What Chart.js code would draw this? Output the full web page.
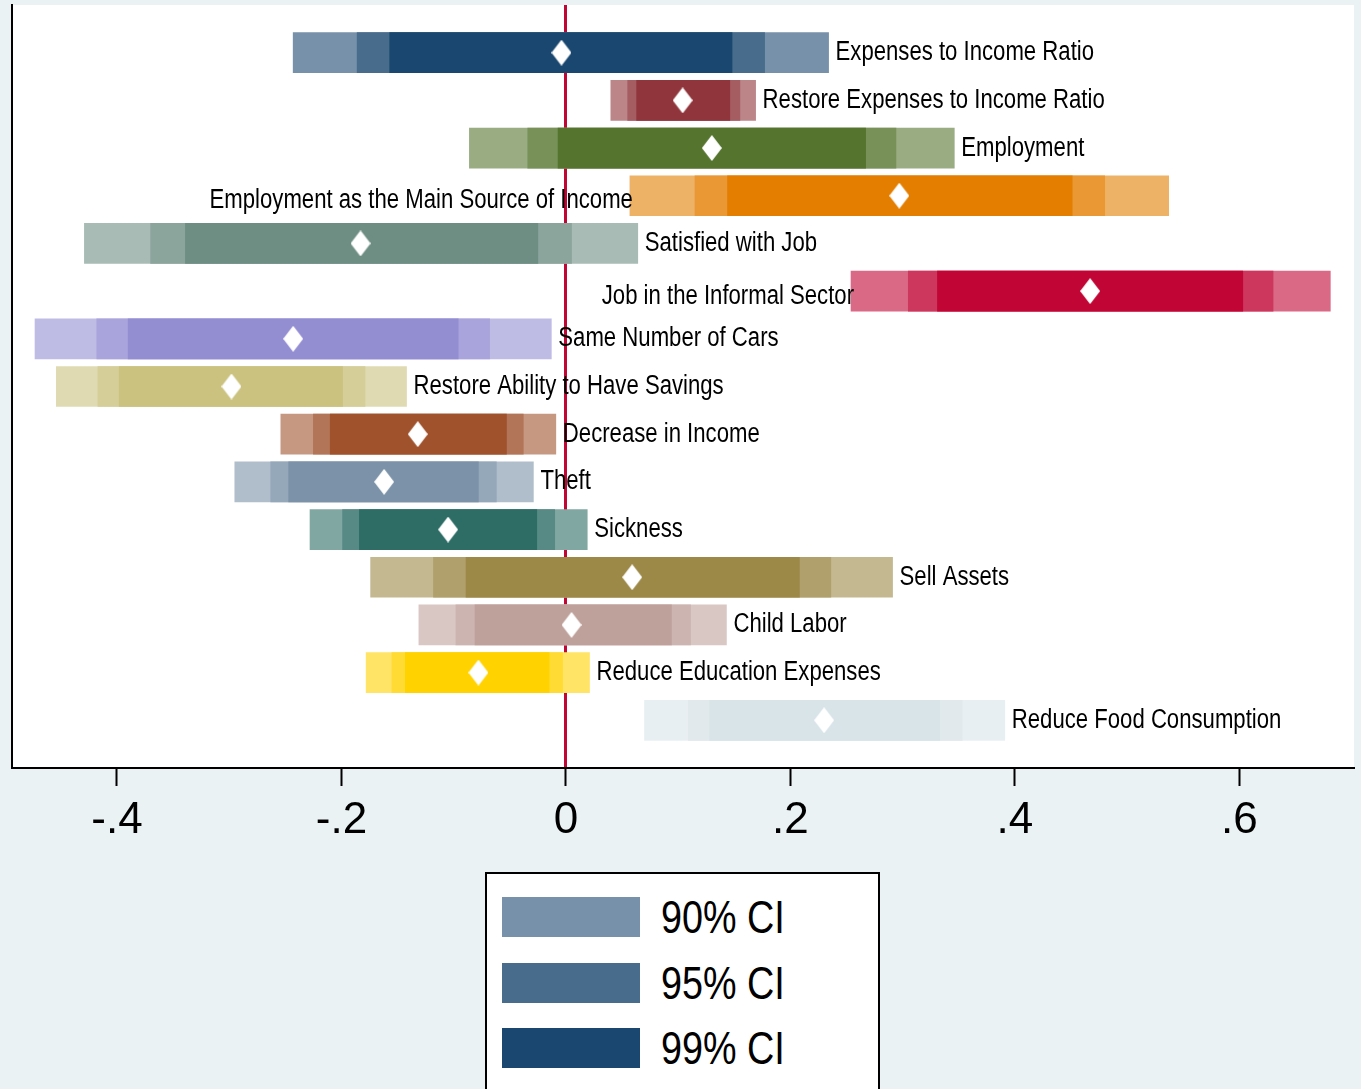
<!DOCTYPE html>
<html>
<head>
<meta charset="utf-8">
<title>Coefficient plot</title>
<script src="https://cdn.jsdelivr.net/npm/chart.js@4.4.1/dist/chart.umd.min.js"></script>
<style>
  html, body { margin: 0; padding: 0; background: #eaf2f3; overflow: hidden; }
  #wrap { position: relative; width: 1361px; height: 1089px; }
  #legend {
    position: absolute; left: 485px; top: 872px; width: 395px; height: 260px;
    box-sizing: border-box; border: 2px solid #000; background: #fff;
  }
  .item { position: absolute; left: 15px; height: 40px; display: flex; align-items: center; }
  .swatch { width: 138px; height: 40px; flex: none; }
  .lbl {
    margin-left: 21px; font: 46px 'Liberation Sans', Arial, sans-serif; color: #000;
    white-space: nowrap; display: inline-block; transform: scaleX(0.82); transform-origin: left center;
  }
</style>
</head>
<body>
<div id="wrap">
  <canvas id="coefChart"></canvas>
  <div id="legend"></div>
</div>
<script>
  const FONT = "'Liberation Sans', Arial, sans-serif";
  const NARROW = 0.82;

  const categories = [
    'Expenses to Income Ratio',
    'Restore Expenses to Income Ratio',
    'Employment',
    'Employment as the Main Source of Income',
    'Satisfied with Job',
    'Job in the Informal Sector',
    'Same Number of Cars',
    'Restore Ability to Have Savings',
    'Decrease in Income',
    'Theft',
    'Sickness',
    'Sell Assets',
    'Child Labor',
    'Reduce Education Expenses',
    'Reduce Food Consumption',
  ];

  const estimates = [-0.004, 0.104, 0.130, 0.297, -0.183, 0.467, -0.243, -0.298, -0.132, -0.162, -0.105, 0.059, 0.005, -0.078, 0.230];

  // widest band (legend: 90% CI)
  const ci90Low  = [-0.243, 0.040, -0.086, 0.057, -0.429, 0.254, -0.473, -0.454, -0.254, -0.295, -0.228, -0.174, -0.131, -0.178, 0.070];
  const ci90High = [ 0.234, 0.169,  0.346, 0.537,  0.064, 0.681, -0.013, -0.142, -0.009, -0.029,  0.019,  0.291,  0.143,  0.021, 0.391];
  // middle band (legend: 95% CI)
  const ci95Low  = [-0.186, 0.055, -0.034, 0.115, -0.370, 0.305, -0.418, -0.417, -0.225, -0.263, -0.199, -0.118, -0.098, -0.155, 0.109];
  const ci95High = [ 0.177, 0.155,  0.294, 0.480,  0.005, 0.630, -0.068, -0.179, -0.038, -0.062, -0.010,  0.236,  0.111, -0.003, 0.353];
  // narrow band (legend: 99% CI)
  const ci99Low  = [-0.157, 0.063, -0.007, 0.144, -0.339, 0.331, -0.390, -0.398, -0.210, -0.247, -0.184, -0.089, -0.081, -0.143, 0.128];
  const ci99High = [ 0.148, 0.146,  0.267, 0.451, -0.025, 0.603, -0.096, -0.199, -0.053, -0.078, -0.026,  0.208,  0.094, -0.015, 0.333];

  const tickValues = [-0.4, -0.2, 0, 0.2, 0.4, 0.6];
  const tickLabels = ['-.4', '-.2', '0', '.2', '.4', '.6'];
  const legendLabels = ['90% CI', '95% CI', '99% CI'];
  const labelSide = ['right', 'right', 'right', 'left', 'right', 'left', 'right', 'right',
                     'right', 'right', 'right', 'right', 'right', 'right', 'right'];

  // stata s2color
  const palette = ['#1A476F', '#90353B', '#55752F', '#E37E00', '#6E8E84', '#C10534', '#938DD2', '#CAC27E',
                   '#A0522D', '#7B92A8', '#2D6D66', '#9C8847', '#BFA19C', '#FFD200', '#D9E4E9'];

  function tint(hex, f) {
    const n = parseInt(hex.slice(1), 16);
    const mix = (c) => Math.round(c * f + 255 * (1 - f));
    return `rgb(${mix((n >> 16) & 255)}, ${mix((n >> 8) & 255)}, ${mix(n & 255)})`;
  }

  function diamond(w, h) {
    const c = document.createElement('canvas');
    c.width = w;
    c.height = h;
    const g = c.getContext('2d');
    g.fillStyle = '#fff';
    g.beginPath();
    g.moveTo(w / 2, 0);
    g.lineTo(w, h / 2);
    g.lineTo(w / 2, h);
    g.lineTo(0, h / 2);
    g.closePath();
    g.fill();
    return c;
  }

  const levels = [
    { low: ci90Low, high: ci90High, shade: 0.6, order: 3 },
    { low: ci95Low, high: ci95High, shade: 0.8, order: 2 },
    { low: ci99Low, high: ci99High, shade: 1.0, order: 1 },
  ];

  const barSets = levels.map((lv, k) => ({
    type: 'bar',
    label: legendLabels[k],
    data: categories.map((_, i) => ({ x: [lv.low[i], lv.high[i]], y: i })),
    backgroundColor: palette.map((p) => tint(p, lv.shade)),
    borderWidth: 0,
    barThickness: 40,
    grouped: false,
    order: lv.order,
  }));

  const pointSet = {
    type: 'scatter',
    label: 'Estimate',
    data: estimates.map((v, i) => ({ x: v, y: i })),
    pointStyle: diamond(20, 26),
    order: 0,
  };

  const plotBackground = {
    id: 'plotBackground',
    beforeDraw(chart) {
      const { ctx, chartArea: a } = chart;
      ctx.save();
      ctx.fillStyle = '#fff';
      ctx.fillRect(a.left, a.top, a.right - a.left, a.bottom - a.top);
      ctx.restore();
    },
  };

  // coefficient names next to the bars, squeezed to look like a condensed face
  const rowLabels = {
    id: 'rowLabels',
    afterDatasetsDraw(chart) {
      const { ctx, scales: { x, y } } = chart;
      ctx.save();
      ctx.font = '27px ' + FONT;
      ctx.fillStyle = '#000';
      ctx.textBaseline = 'middle';
      categories.forEach((name, i) => {
        const py = y.getPixelForValue(i);
        const left = labelSide[i] === 'left';
        const px = left ? x.getPixelForValue(ci90Low[i]) + 3 : x.getPixelForValue(ci90High[i]) + 7;
        ctx.save();
        ctx.translate(px, py + (left ? 5 : 0));
        ctx.scale(NARROW, 1);
        ctx.textAlign = left ? 'right' : 'left';
        ctx.fillText(name, 0, 0);
        ctx.restore();
      });
      ctx.restore();
    },
  };

  Chart.defaults.font.family = FONT;
  Chart.defaults.color = '#000';

  new Chart(document.getElementById('coefChart'), {
    type: 'bar',
    data: { datasets: [...barSets, pointSet] },
    options: {
      indexAxis: 'y',
      responsive: true,
      maintainAspectRatio: false,
      animation: false,
      layout: { padding: { left: 12, top: 5, right: 7, bottom: 0 } },
      plugins: { legend: { display: false }, tooltip: { enabled: false } },
      scales: {
        x: {
          type: 'linear',
          min: -0.4935,
          max: 0.7021,
          afterBuildTicks: (s) => { s.ticks = tickValues.map((v) => ({ value: v })); },
          afterFit: (s) => { s.height = 321; },
          ticks: {
            callback: (v) => tickLabels[tickValues.indexOf(v)],
            font: { size: 44 },
            color: '#000',
            padding: 8,
            maxRotation: 0,
            autoSkip: false,
          },
          grid: {
            color: (c) => (c.tick && c.tick.value === 0 ? '#C10534' : 'rgba(0,0,0,0)'),
            lineWidth: (c) => (c.tick && c.tick.value === 0 ? 3 : 1),
            drawTicks: true,
            tickLength: 18,
            tickColor: '#000',
            tickWidth: 2,
          },
          border: { display: true, color: '#000', width: 2 },
        },
        y: {
          type: 'linear',
          min: -1,
          max: 15,
          offset: false,
          reverse: true,
          ticks: { display: false },
          grid: { display: false },
          border: { display: true, color: '#000', width: 2 },
          afterFit: (s) => { s.width = 0; },
        },
      },
    },
    plugins: [plotBackground, rowLabels],
  });

  const legend = document.getElementById('legend');
  legendLabels.forEach((text, k) => {
    const item = document.createElement('div');
    item.className = 'item';
    item.style.top = [23, 89, 154][k] + 'px';
    item.innerHTML = `<div class="swatch" style="background:${tint(palette[0], levels[k].shade)}"></div>` +
      `<span class="lbl">${text}</span>`;
    legend.appendChild(item);
  });
</script>
</body>
</html>
